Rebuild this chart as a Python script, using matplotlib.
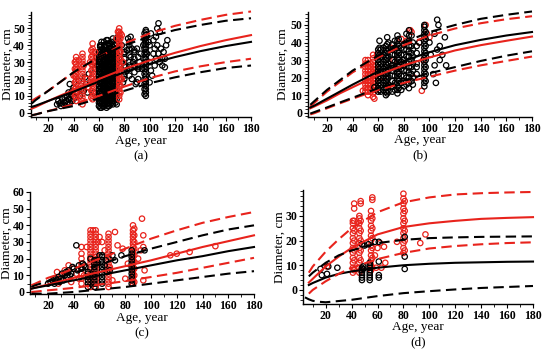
import matplotlib
matplotlib.use('Agg')
import matplotlib.pyplot as plt
from matplotlib.ticker import MultipleLocator

RED = '#e8231c'
BLACK = '#000000'

# ---------------- curve data ----------------
curve_ages = [7, 10, 20, 30, 40, 60, 80, 100, 120, 140, 160, 180]

# panel (a)
a_black_mid = [3.5, 4.2, 7, 9.8, 12.5, 18.5, 24, 29, 33, 36.5, 39.5, 42]
a_red_mid = [2.5, 3.4, 7, 10.3, 13.5, 20, 26, 31, 35.5, 39.5, 43, 46]
a_red_up = [7, 8.5, 13, 18.5, 24, 33, 41, 47, 51.5, 55, 58, 60]
a_black_up = [5.5, 7.5, 13, 18.5, 24, 33, 40, 45, 49, 52, 54.5, 56]
a_red_lo = [-1.5, -1, 1, 3, 5, 10, 15.5, 20.5, 24.5, 27.5, 30, 32]
a_black_lo = [-1.5, -1, 1, 2.5, 4, 8.5, 13, 17.5, 21, 24, 26.5, 28]

# panel (b)
b_black_up = [4.5, 6.5, 13, 18.5, 24, 32.5, 40, 46, 50, 53.5, 55.8, 57.7]
b_red_up = [3.5, 5.5, 12, 17.5, 23, 31.5, 38.5, 44, 48, 51, 53.3, 55]
b_black_mid = [3, 4, 8, 12, 16, 23.5, 29.5, 34.5, 38.5, 41.5, 44, 46]
b_red_mid = [2.5, 3.5, 7, 11, 14.5, 21.5, 27, 31.5, 35.5, 38.5, 41, 43.4]
b_black_lo = [-0.5, 0.3, 3, 5.8, 8.5, 14, 18.5, 22.5, 26, 29.5, 32.5, 35]
b_red_lo = [-1, -0.3, 2.5, 5.3, 8, 13, 17, 20.5, 24, 27, 29.5, 32]

# panel (c)
c_red_up = [4, 5, 8.5, 11, 14, 20, 26, 32, 37, 41.5, 45, 48]
c_black_up = [3, 4, 6.5, 9, 11.5, 16.5, 21.5, 26, 30, 34, 37.5, 40]
c_red_mid = [2, 2.6, 4.5, 6.5, 8.5, 12, 15.5, 19, 23, 27, 30.5, 34]
c_black_mid = [2, 2.5, 4, 5.5, 7, 10, 13, 16, 19, 21.5, 24.5, 27]
c_red_lo = [0, 0.2, 1, 1.7, 2.5, 4.5, 6.5, 9, 11.5, 14.5, 17.5, 20.5]
c_black_lo = [-1, -1, -1, -0.5, 0, 1.5, 3, 5, 7, 9, 11, 12.5]

# panel (d)
d_red_up = [7, 9.5, 15.5, 20.5, 25, 31.5, 35.5, 37.5, 38.7, 39.2, 39.5, 39.7]
d_red_mid = [3, 4.5, 9.5, 13.5, 17, 22.5, 25.5, 27, 28, 28.8, 29.2, 29.5]
d_black_up = [5.5, 7, 11, 14, 16, 19, 20.3, 21, 21.3, 21.5, 21.6, 21.7]
d_black_mid = [2, 2.8, 5, 6.5, 7.5, 9, 10, 10.6, 11, 11.2, 11.4, 11.5]
d_red_lo = [-1.5, 0, 3.5, 6.5, 9, 12.5, 15, 16.8, 17.8, 18.5, 19, 19.3]
d_black_lo_ages = [4, 7, 10, 15, 20, 40, 60, 80, 100, 120, 140, 160, 180]
d_black_lo = [-3, -3.8, -4.4, -4.8, -5, -4, -2.5, -1.3, -0.5, 0.2, 0.8, 1.2, 1.6]

# ---------------- scatter data ----------------
# panel (a)
a_black_col_age = [60, 61, 62, 63, 64, 65, 66, 67, 68, 69, 70, 71, 72, 73, 74,
                   80, 84, 88, 91, 96, 97]
a_black_col_dia = [
    [4, 6, 8, 10, 12, 14, 16, 18, 20, 22, 24, 26, 28, 30, 32, 34, 36],
    [3, 6, 9, 12, 15, 18, 21, 24, 27, 30, 33, 36, 39],
    [3, 5, 7, 9, 11, 13, 15, 17, 19, 21, 23, 25, 27, 29, 31, 33, 35, 37, 40, 42],
    [4, 6, 8, 10, 12, 14, 16, 18, 20, 22, 24, 26, 28, 30, 32, 34, 36, 38],
    [4, 7, 10, 13, 16, 19, 22, 25, 28, 31, 34, 37, 40],
    [5, 7, 9, 11, 13, 15, 17, 19, 21, 23, 25, 27, 29, 31, 33, 35, 37, 39],
    [3, 5, 7, 9, 11, 13, 15, 17, 19, 21, 23, 25, 27, 29, 31, 33, 35, 37, 40, 43],
    [4, 7, 10, 13, 16, 19, 22, 25, 28, 31, 34, 37, 41],
    [4, 6, 8, 10, 12, 14, 16, 18, 20, 22, 24, 26, 28, 30, 32, 34, 36, 38, 41],
    [5, 8, 11, 14, 17, 20, 23, 26, 29, 32, 35, 38],
    [6, 8, 10, 12, 14, 16, 18, 20, 22, 24, 26, 28, 30, 32, 34, 36, 38, 42],
    [5, 8, 11, 14, 17, 20, 23, 26, 29, 32, 35, 39],
    [7, 9, 11, 13, 15, 17, 19, 21, 23, 25, 27, 29, 31, 33, 35, 37, 40],
    [6, 9, 12, 15, 18, 21, 24, 27, 30, 33, 36],
    [5, 8, 11, 14, 17, 20, 23, 26, 29, 32, 35, 38, 41, 44],
    [20, 24, 28, 32, 36],
    [22, 26, 30, 34, 38, 42],
    [24, 28, 32, 36],
    [20, 27, 33],
    [11, 14, 17, 20, 23, 26, 29, 32, 35, 38, 41, 44, 47],
    [10, 12, 14, 16, 18, 20, 22, 24, 26, 28, 30, 32, 34, 36, 38, 40, 42, 44, 46, 48, 49],
]
a_black_pt_age = [27, 28, 29, 30, 30, 31, 32, 33, 33, 34, 35, 35, 36, 36, 37, 37, 38, 38, 39, 39,
                  40, 40, 41, 43, 44, 45, 46, 48, 49, 50, 51, 52, 53, 56, 57, 58, 59, 58, 56,
                  61, 64, 67, 69, 71, 73, 75, 73,
                  78, 78, 79, 80, 80, 81, 82, 82, 83, 84, 84, 85, 85, 86, 86, 87, 88, 88, 89, 90,
                  90, 91, 92, 93, 94, 95, 100, 100, 101, 101, 102, 103, 103, 104, 104, 105, 105,
                  106, 106, 107, 107, 108, 108, 109, 110, 110, 111, 112, 112, 114, 113, 100, 99, 98]
a_black_pt_dia = [5, 7, 5.5, 6, 4, 8, 5, 9, 6, 7, 10, 5, 8, 12, 17, 6, 11, 8, 13, 7,
                  10, 15, 9, 12, 19, 10, 14, 13, 21, 17, 12, 23, 18, 12, 26, 20, 28, 33, 30,
                  40, 42, 43, 41, 44, 40, 45, 38,
                  30, 40, 18, 35, 22, 27, 25, 37, 44, 40, 28, 45, 33, 20, 38, 30, 28, 37, 17, 18,
                  38, 26, 30, 35, 26, 40, 40, 30, 25, 47, 22, 35, 43, 28, 38, 45, 32,
                  50, 40, 53, 35, 48, 30, 38, 28, 33, 36, 27, 32, 43, 40, 18, 42, 35]
a_red_col_age = [41, 42, 47, 54, 55, 76, 77]
a_red_col_dia = [
    [10, 14, 18, 22, 26, 30],
    [7, 9, 11, 13, 15, 17, 19, 21, 23, 25, 27, 29, 31, 33],
    [5, 7, 9, 11, 13, 15, 17, 19, 21, 23, 25, 27, 29, 31, 33, 35],
    [9, 13, 17, 21, 25, 29, 33, 37],
    [8, 10, 12, 14, 16, 18, 20, 22, 24, 26, 28, 30, 32, 34, 36, 38, 41],
    [8, 10, 12, 14, 16, 18, 20, 22, 24, 26, 28, 30, 32, 34, 36, 38, 40, 42, 44, 46, 48, 50],
    [12, 16, 20, 24, 28, 32, 36, 40, 44, 47],
]
a_red_pt_age = [40, 43, 44, 48, 50, 52, 53, 56, 57, 74, 78, 79, 78, 75]
a_red_pt_dia = [22, 26, 31, 28, 20, 15, 30, 18, 36, 44, 46, 30, 20, 48]

# panel (b)
b_black_col_age = [60, 61, 62, 64, 66, 67, 68, 71, 73, 75, 76, 78, 80, 82, 84, 86, 87, 90, 96, 97]
b_black_col_dia = [
    [12, 14, 16, 18, 20, 22, 24, 26, 28, 30, 32, 34, 36],
    [13, 17, 21, 25, 29, 33, 37, 41],
    [12, 16, 20, 24, 28, 32, 36],
    [13, 17, 21, 25, 29, 33, 37],
    [10, 12, 14, 16, 18, 20, 22, 24, 26, 28, 30, 32, 34, 36, 38],
    [11, 15, 19, 23, 27, 31, 35, 39, 43],
    [12, 16, 20, 24, 28, 32, 36, 40],
    [12, 15, 18, 21, 24, 27, 30, 33, 36, 39],
    [13, 17, 21, 25, 29, 33, 37, 41],
    [11, 13, 15, 17, 19, 21, 23, 25, 27, 29, 31, 33, 35, 37, 39, 41, 44],
    [14, 18, 22, 26, 30, 34, 38, 42],
    [13, 17, 21, 25, 29, 33, 37],
    [15, 18, 21, 24, 27, 30, 33, 36, 39],
    [16, 20, 24, 28, 32, 36, 40],
    [14, 17, 20, 23, 26, 29, 32, 35, 38, 41, 44, 47],
    [18, 22, 26, 30, 34, 38, 44],
    [16, 20, 24, 28, 32, 36, 40],
    [22, 28, 34, 38],
    [15, 17, 19, 21, 23, 25, 27, 29, 31, 33, 35, 37, 39, 41, 43, 45, 47, 49, 50],
    [18, 22, 26, 30, 34, 38, 42, 46],
]
b_black_pt_age = [57, 100, 103, 104, 105, 106, 107, 108, 110, 112, 113, 101, 104, 108, 106, 90, 92, 82]
b_black_pt_dia = [14.5, 40, 22, 27, 17, 53, 50, 38, 33, 43, 27, 33, 45, 30, 36, 26, 40, 45]
b_red_col_age = [50, 52, 54, 56, 58]
b_red_col_dia = [
    [12, 14, 16, 18, 20, 22, 24, 26, 28, 30],
    [10, 12, 14, 16, 18, 20, 22, 24, 26, 28, 30],
    [12, 14, 16, 18, 20, 22, 24, 26, 28],
    [9, 11, 13, 15, 17, 19, 21, 23, 25, 27, 29, 31, 33],
    [13, 15, 17, 19, 21, 23, 25, 27],
]
b_red_pt_age = [48, 57, 59, 64, 70, 72, 78, 82, 85, 86, 88, 92, 94, 97, 98, 100, 95, 75, 68, 80]
b_red_pt_dia = [12.5, 8, 33, 20, 37, 30, 42, 41, 47, 46, 20, 40, 12.5, 50, 45, 43, 30, 25, 15, 28]

# panel (c)
c_red_col_age = [46, 53, 57, 67, 86, 87]
c_red_col_dia = [
    [5, 8, 11, 14, 17, 20, 23, 27],
    [3, 5, 7, 9, 11, 13, 15, 17, 19, 21, 23, 25, 27, 29, 31, 33, 35, 37],
    [3, 5, 7, 9, 11, 13, 15, 17, 19, 21, 23, 25, 27, 29, 31, 33, 35, 37],
    [3, 5, 7, 9, 11, 13, 15, 17, 19, 21, 23, 25, 27, 29, 31, 33, 35],
    [5, 7, 9, 11, 13, 15, 17, 19, 21, 23, 25, 27, 29, 31, 33, 35, 37, 40],
    [6, 10, 14, 18, 22, 26, 30, 34, 38],
]
c_red_pt_age = [93, 94, 94, 95, 94, 115, 120, 130, 150, 72, 74, 62, 55, 60, 50, 46, 40, 35, 30, 25,
                28, 38, 44, 48, 68, 70, 80, 78, 82, 90, 92, 33, 36, 42, 27, 64, 59]
c_red_pt_dia = [44, 34, 27, 13, 7, 22, 23, 24, 27.5, 36, 28, 30, 37, 33, 27, 15, 14, 12, 10, 8,
                5, 6, 8, 10, 15, 7, 8, 26, 17, 20, 25, 13, 16, 11, 12, 25, 30]
c_black_col_age = [51, 56, 62, 85]
c_black_col_dia = [
    [3, 5, 7, 9, 11, 12],
    [3, 5, 7, 9, 11, 13, 15, 17, 19],
    [5, 7, 9, 11, 13, 15, 17, 19, 21, 22],
    [5, 7, 9, 11, 13, 15, 17, 19, 21, 23, 25],
]
c_black_pt_age = [20, 22, 24, 26, 27, 28, 30, 31, 33, 34, 35, 36, 38, 39, 40, 42, 43, 44, 46, 47,
                  48, 49, 25, 29, 32, 37, 70, 72, 77, 95, 66, 68, 58, 53, 60, 64, 65]
c_black_pt_dia = [5, 6, 7, 8, 7, 9, 8, 11, 10, 12, 9, 13, 11, 15, 14, 28, 13, 16, 14, 17,
                  16, 15, 5, 6, 7, 10, 22, 19, 22, 25, 12, 13, 19, 20, 22, 16, 19]

# panel (d)
d_red_col_age = [41, 42, 46, 47, 55, 56, 80, 81]
d_red_col_dia = [
    [7, 9, 11, 13, 15, 17, 19, 21, 23, 25, 27, 28],
    [8, 12, 16, 20, 24, 28, 33, 35],
    [7, 9, 11, 13, 15, 17, 19, 21, 23, 25, 27, 29, 30],
    [8, 12, 16, 20, 24, 28, 35, 36],
    [8, 10, 12, 14, 16, 18, 20, 22, 24, 26, 28, 30, 32],
    [9, 13, 17, 21, 25, 29, 36.5, 37.5],
    [15, 17, 19, 21, 23, 25, 27, 29, 31, 33, 35, 37, 39],
    [16, 20, 24, 28, 32, 36],
]
d_red_pt_age = [58, 60, 62, 65, 66, 63, 75, 93, 97, 59, 21]
d_red_pt_dia = [14, 17, 19, 17.5, 11, 9, 19.5, 19, 22.5, 9, 9.5]
d_black_col_age = [48, 54, 61]
d_black_col_dia = [
    [4, 5, 6, 7, 8, 9],
    [4, 5, 6, 7, 8, 9, 10, 11],
    [5, 6],
]
d_black_pt_age = [16, 17, 21, 22, 29, 48, 50, 53, 58, 61, 61, 81, 81, 81, 49, 49]
d_black_pt_dia = [8.5, 6, 6.5, 9.5, 9, 18.5, 18, 18.5, 19.5, 11.5, 19.5, 21.5, 13.5, 8.5, 8.5, 9.5]

# ---------------- drawing ----------------
W, H = 550, 354
fig = plt.figure(figsize=(5.5, 3.54), dpi=100)
SERIF = ['Liberation Serif', 'DejaVu Serif']


def make_axes(l, r, t, b, xlim, ylim, yticks, yminor):
    ax = fig.add_axes([l / W, 1 - b / H, (r - l) / W, (b - t) / H])
    ax.set_xlim(*xlim)
    ax.set_ylim(*ylim)
    for s in ('top', 'right'):
        ax.spines[s].set_visible(False)
    for s in ('left', 'bottom'):
        ax.spines[s].set_linewidth(1.0)
    ax.set_xticks([20, 40, 60, 80, 100, 120, 140, 160, 180])
    ax.xaxis.set_minor_locator(MultipleLocator(10))
    ax.set_yticks(yticks)
    ax.yaxis.set_minor_locator(MultipleLocator(yminor))
    ax.tick_params(which='major', length=3, width=0.8, pad=1)
    ax.tick_params(which='minor', length=2, width=0.6)
    for lab in ax.get_xticklabels() + ax.get_yticklabels():
        lab.set_fontfamily(SERIF)
        lab.set_fontweight('bold')
        lab.set_fontsize(8.5)
    return ax


def scatter(ax, col_age, col_dia, pt_age, pt_dia, color, z):
    xs = [a for a, ds in zip(col_age, col_dia) for _ in ds] + list(pt_age)
    ys = [d for ds in col_dia for d in ds] + list(pt_dia)
    ax.scatter(xs, ys, s=15, facecolors='none', edgecolors=color, linewidths=0.9,
               zorder=z, clip_on=False)


def curve(ax, ages, vals, color, dashed):
    ls = (0, (5, 2.6)) if dashed else '-'
    ax.plot(ages, vals, color=color, lw=1.5, ls=ls, zorder=5, clip_on=False)


def labels(cx, ax_y, lab_y, yl_x, yl_y, tag):
    fig.text(cx / W, 1 - ax_y / H, 'Age, year', ha='center', va='center',
             family=SERIF, fontsize=9.5)
    fig.text(cx / W, 1 - lab_y / H, tag, ha='center', va='center',
             family=SERIF, fontsize=9.5)
    fig.text(yl_x / W, 1 - yl_y / H, 'Diameter, cm', ha='center', va='center',
             rotation=90, family=SERIF, fontsize=9.5)


# (a)
ax = make_axes(30.5, 251, 12, 117, (6, 180), (-2.5, 59.7), [0, 10, 20, 30, 40, 50], 2)
scatter(ax, a_black_col_age, a_black_col_dia, a_black_pt_age, a_black_pt_dia, BLACK, 2)
scatter(ax, a_red_col_age, a_red_col_dia, a_red_pt_age, a_red_pt_dia, RED, 3)
curve(ax, curve_ages, a_red_up, RED, True)
curve(ax, curve_ages, a_black_up, BLACK, True)
curve(ax, curve_ages, a_red_mid, RED, False)
curve(ax, curve_ages, a_black_mid, BLACK, False)
curve(ax, curve_ages, a_red_lo, RED, True)
curve(ax, curve_ages, a_black_lo, BLACK, True)
labels(141, 141, 156, 8, 64, '(a)')

# (b)
ax = make_axes(308, 532, 12, 117, (5.2, 180), (-2.45, 57.4), [0, 10, 20, 30, 40, 50], 2)
scatter(ax, b_red_col_age, b_red_col_dia, b_red_pt_age, b_red_pt_dia, RED, 2)
scatter(ax, b_black_col_age, b_black_col_dia, b_black_pt_age, b_black_pt_dia, BLACK, 3)
curve(ax, curve_ages, b_red_up, RED, True)
curve(ax, curve_ages, b_black_up, BLACK, True)
curve(ax, curve_ages, b_red_mid, RED, False)
curve(ax, curve_ages, b_black_mid, BLACK, False)
curve(ax, curve_ages, b_red_lo, RED, True)
curve(ax, curve_ages, b_black_lo, BLACK, True)
labels(420, 140, 155, 283, 64, '(b)')

# (c)
ax = make_axes(30, 254, 192, 294, (6, 180), (-1.2, 60), [0, 10, 20, 30, 40, 50, 60], 5)
scatter(ax, c_red_col_age, c_red_col_dia, c_red_pt_age, c_red_pt_dia, RED, 2)
scatter(ax, c_black_col_age, c_black_col_dia, c_black_pt_age, c_black_pt_dia, BLACK, 3)
curve(ax, curve_ages, c_red_up, RED, True)
curve(ax, curve_ages, c_black_up, BLACK, True)
curve(ax, curve_ages, c_red_mid, RED, False)
curve(ax, curve_ages, c_black_mid, BLACK, False)
curve(ax, curve_ages, c_red_lo, RED, True)
curve(ax, curve_ages, c_black_lo, BLACK, True)
labels(142, 318, 333, 7, 243, '(c)')

# (d)
ax = make_axes(303, 533, 190, 304, (2.5, 180), (-5.7, 40.5), [0, 10, 20, 30], 2)
scatter(ax, d_red_col_age, d_red_col_dia, d_red_pt_age, d_red_pt_dia, RED, 2)
scatter(ax, d_black_col_age, d_black_col_dia, d_black_pt_age, d_black_pt_dia, BLACK, 3)
curve(ax, curve_ages, d_red_up, RED, True)
curve(ax, curve_ages, d_red_mid, RED, False)
curve(ax, curve_ages, d_black_up, BLACK, True)
curve(ax, curve_ages, d_black_mid, BLACK, False)
curve(ax, curve_ages, d_red_lo, RED, True)
curve(ax, d_black_lo_ages, d_black_lo, BLACK, True)
labels(418, 327, 342, 280, 247, '(d)')

fig.savefig('out.png', dpi=100)
